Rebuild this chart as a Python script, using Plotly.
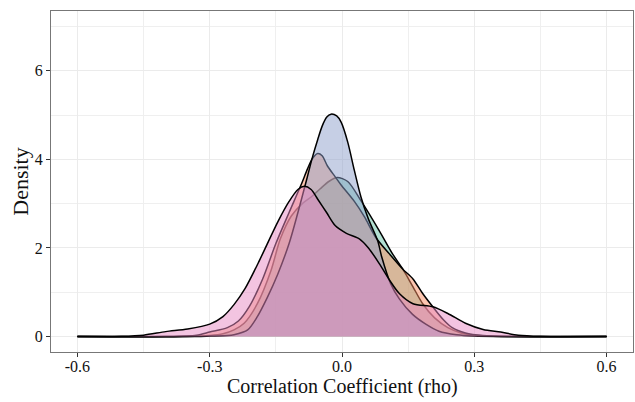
import plotly.graph_objects as go

# Kernel density estimates of the correlation coefficient for four groups
green_x = [-0.6, -0.35, -0.3, -0.27, -0.245, -0.222, -0.192, -0.161, -0.14, -0.115, -0.09, -0.07, -0.05, -0.03, -0.011, 0.013, 0.044, 0.085, 0.115, 0.138, 0.161, 0.183, 0.21, 0.24, 0.27, 0.31, 0.36, 0.6]
green_y = [0, 0, 0.02, 0.06, 0.15, 0.3, 0.74, 1.49, 2.2, 2.72, 3.0, 3.15, 3.33, 3.5, 3.59, 3.5, 3.05, 2.38, 1.86, 1.52, 1.12, 0.74, 0.42, 0.2, 0.08, 0.02, 0, 0]

orange_x = [-0.6, -0.4, -0.33, -0.3, -0.26, -0.235, -0.21, -0.18, -0.15, -0.12, -0.093, -0.078, -0.067, -0.055, -0.045, -0.033, -0.015, -0.002, 0.028, 0.051, 0.077, 0.108, 0.138, 0.161, 0.183, 0.206, 0.23, 0.25, 0.28, 0.32, 0.38, 0.6]
orange_y = [0, 0, 0.03, 0.1, 0.2, 0.35, 0.68, 1.3, 2.1, 2.8, 3.42, 3.79, 4.02, 4.13, 4.08, 3.85, 3.6, 3.42, 3.05, 2.7, 2.23, 1.86, 1.52, 1.3, 0.97, 0.67, 0.38, 0.2, 0.08, 0.02, 0, 0]

blue_x = [-0.6, -0.35, -0.3, -0.26, -0.245, -0.214, -0.192, -0.169, -0.146, -0.12, -0.1, -0.08, -0.067, -0.055, -0.045, -0.035, -0.025, -0.012, -0.002, 0.013, 0.028, 0.043, 0.06, 0.081, 0.09, 0.11, 0.13, 0.16, 0.19, 0.22, 0.26, 0.3, 0.35, 0.6]
blue_y = [0, 0, 0.01, 0.02, 0.04, 0.15, 0.45, 0.89, 1.4, 2.1, 2.8, 3.55, 4.05, 4.45, 4.75, 4.95, 5.02, 4.98, 4.84, 4.39, 3.75, 3.15, 2.65, 2.16, 1.8, 1.2, 0.85, 0.5, 0.28, 0.12, 0.04, 0.01, 0, 0]

pink_x = [-0.6, -0.5, -0.45, -0.4, -0.35, -0.3, -0.27, -0.245, -0.22, -0.19, -0.17, -0.145, -0.12, -0.1, -0.085, -0.07, -0.055, -0.035, -0.015, 0.01, 0.04, 0.06, 0.085, 0.108, 0.13, 0.161, 0.206, 0.24, 0.28, 0.32, 0.36, 0.4, 0.45, 0.6]
pink_y = [0, 0.005, 0.03, 0.11, 0.17, 0.28, 0.45, 0.72, 1.08, 1.66, 2.08, 2.6, 3.05, 3.32, 3.39, 3.32, 3.1, 2.8, 2.5, 2.33, 2.2, 2.0, 1.64, 1.27, 0.97, 0.74, 0.67, 0.52, 0.30, 0.16, 0.10, 0.03, 0.005, 0]

series = [
    ("A", green_x, green_y, "rgba(102,194,165,0.5)"),
    ("B", orange_x, orange_y, "rgba(252,141,98,0.5)"),
    ("C", blue_x, blue_y, "rgba(141,160,203,0.5)"),
    ("D", pink_x, pink_y, "rgba(231,138,195,0.5)"),
]

x_ticks = [-0.6, -0.3, 0.0, 0.3, 0.6]
x_tick_text = ["-0.6", "-0.3", "0.0", "0.3", "0.6"]
y_ticks = [0, 2, 4, 6]

FONT = "Liberation Serif, Times New Roman, serif"

fig = go.Figure()
for name, xs, ys, fill in series:
    fig.add_trace(go.Scatter(
        x=xs, y=ys, name=name, mode="lines",
        line=dict(color="black", width=1.5, shape="spline", smoothing=0.8),
        fill="tozeroy", fillcolor=fill, hoverinfo="skip",
    ))

axis_common = dict(
    showline=True, mirror=True, linecolor="#777777", linewidth=1,
    ticks="outside", ticklen=4, tickwidth=1, tickcolor="#333333",
    showgrid=True, gridcolor="#EBEBEB", gridwidth=1.2,
    zeroline=False, automargin=False,
    tickfont=dict(family=FONT, size=16, color="#111111"),
)

fig.update_layout(
    width=635, height=402,
    margin=dict(l=51, r=2, t=11, b=50),
    paper_bgcolor="white", plot_bgcolor="white",
    showlegend=False,
    font=dict(family=FONT, color="#111111"),
    xaxis=dict(
        range=[-0.66, 0.66], tickvals=x_ticks, ticktext=x_tick_text,
        ticklabelstandoff=-4,
        minor=dict(tickvals=[-0.45, -0.15, 0.15, 0.45], showgrid=True, gridcolor="#EFEFEF", gridwidth=0.7, ticks=""),
        **axis_common,
    ),
    yaxis=dict(
        range=[-0.35, 7.35], tickvals=y_ticks,
        title=dict(text="Density", font=dict(family=FONT, size=22), standoff=0),
        minor=dict(tickvals=[1, 3, 5, 7], showgrid=True, gridcolor="#EFEFEF", gridwidth=0.7, ticks=""),
        **axis_common,
    ),
)

# x-axis title as a paper-anchored label just below the tick labels
fig.add_annotation(
    text="Correlation Coefficient (rho)", xref="paper", yref="paper",
    x=0.5, y=0, xanchor="center", yanchor="top", yshift=-22, borderpad=0,
    showarrow=False, font=dict(family=FONT, size=20, color="#111111"),
)

fig.write_html("out.html")
